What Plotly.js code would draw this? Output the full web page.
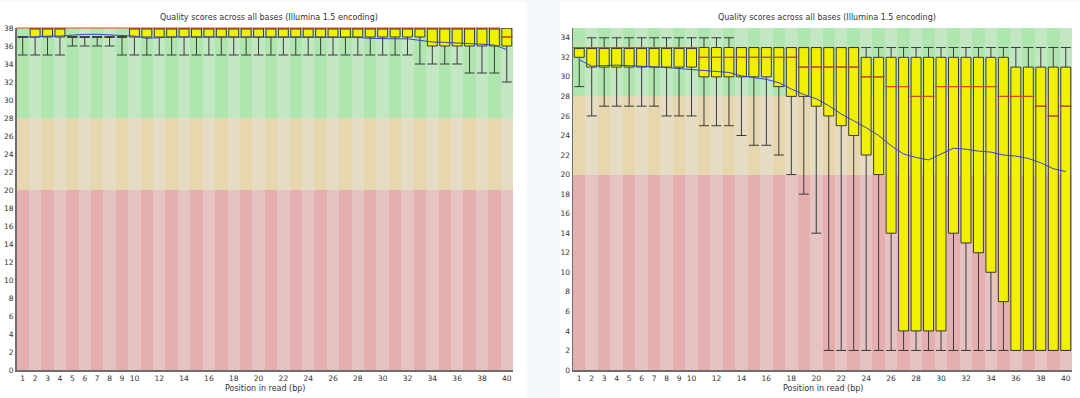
<!DOCTYPE html>
<html>
<head>
<meta charset="utf-8">
<script src="https://cdn.plot.ly/plotly-3.0.1.min.js"></script>
<style>html,body{margin:0;padding:0;background:#f4f9fd;}#chart{width:1080px;height:398px;}</style>
</head>
<body>
<div id="chart"></div>
<script>
// ---------- data ----------
const positions = [1,2,3,4,5,6,7,8,9,10,11,12,13,14,15,16,17,18,19,20,21,22,23,24,25,26,27,28,29,30,31,32,33,34,35,36,37,38,39,40];
const xTickVals = [1,2,3,4,5,6,7,8,9,10,12,14,16,18,20,22,24,26,28,30,32,34,36,38,40];
const chartTitle = 'Quality scores across all bases (Illumina 1.5 encoding)';
const xTitle = 'Position in read (bp)';

// zone thresholds (bad / ok / good)
const leftZoneEdges = [0, 20, 28, 38];
const rightZoneEdges = [0, 20, 28, 35];
const leftYTicks = [0,2,4,6,8,10,12,14,16,18,20,22,24,26,28,30,32,34,36,38];
const rightYTicks = [0,2,4,6,8,10,12,14,16,18,20,22,24,26,28,30,32,34];

// left chart
const leftQ1 =     [37,37,37,37,37,37,37,37,37,37,37,37,37,37,37,37,37,37,37,37,37,37,37,37,37,37,37,37,37,37,37,37,37,36,36,36,36,36,36,36];
const leftMedian = [38,38,38,38,38,38,38,38,38,38,38,38,38,38,38,38,38,38,38,38,38,38,38,38,38,38,38,38,38,38,38,38,38,38,38,38,38,38,38,37];
const leftQ3 =     [37,38,38,38,37,37,37,37,37,38,38,38,38,38,38,38,38,38,38,38,38,38,38,38,38,38,38,38,38,38,38,38,38,38,38,38,38,38,38,38];
const leftLow =    [35,35,35,35,36,36,36,36,35,35,35,35,35,35,35,35,35,35,35,35,35,35,35,35,35,35,35,35,35,35,35,35,34,34,34,34,33,33,33,32];
const leftHigh =   [37,38,38,38,37,37,37,37,37,38,38,38,38,38,38,38,38,38,38,38,38,38,38,38,38,38,38,38,38,38,38,38,38,38,38,38,38,38,38,38];
const leftMean =   [37.0,37.0,37.1,37.1,37.2,37.3,37.3,37.25,37.2,37.1,36.85,36.95,37.0,37.0,37.0,37.0,37.0,37.0,37.0,37.0,36.95,36.95,36.95,36.95,36.95,36.95,36.95,36.95,36.85,36.8,36.8,36.8,36.6,36.45,36.4,36.35,36.3,36.2,36.1,35.6];

// right chart
const rightQ1 =     [32,31,31,31,31,31,31,31,31,31,30,30,30,30,30,30,29,28,28,27,26,25,24,22,20,14,4,4,4,4,14,13,12,10,7,2,2,2,2,2];
const rightMedian = [33,33,33,33,33,33,33,33,33,33,32,32,32,32,32,32,32,32,31,31,31,31,31,30,30,29,29,28,28,29,29,29,29,29,28,28,28,27,26,27];
const rightQ3 =     [33,33,33,33,33,33,33,33,33,33,33,33,33,33,33,33,33,33,33,33,33,33,33,32,32,32,32,32,32,32,32,32,32,32,32,31,31,31,31,31];
const rightLow =    [29,26,27,27,27,27,27,26,26,26,25,25,25,24,23,23,22,20,18,14,2,2,2,2,2,2,2,2,2,2,2,2,2,2,2,2,2,2,2,2];
const rightHigh =   [33,34,34,34,34,34,34,34,34,34,34,34,34,33,33,33,33,33,33,33,33,33,33,33,33,33,33,33,33,33,33,33,33,33,33,33,33,33,33,33];
const rightMean =   [31.75,31.1,31.15,31.2,31.15,31.1,31.0,30.95,30.85,30.75,30.6,30.55,30.45,30.1,29.9,29.75,29.4,28.75,28.2,27.75,27.05,26.2,25.5,24.8,24.0,22.95,22.1,21.75,21.5,22.1,22.7,22.6,22.4,22.3,22.0,21.9,21.65,21.2,20.6,20.3];

// ---------- styles ----------
const FONT = 'DejaVu Sans, sans-serif';
const zoneColors = [
  ['rgb(230,175,175)','rgb(230,195,195)'], // bad
  ['rgb(230,215,175)','rgb(230,220,195)'], // ok
  ['rgb(175,230,175)','rgb(195,230,195)']  // good
];

function stripeTraces(edges, xa, ya) {
  const out = [];
  for (let z = 0; z < 3; z++) {
    out.push({
      type: 'bar', x: positions,
      base: positions.map(() => edges[z]),
      y: positions.map(() => edges[z+1] - edges[z]),
      width: positions.map(() => 1),
      marker: {color: positions.map(p => p % 2 ? zoneColors[z][0] : zoneColors[z][1]), line: {width: 0}},
      xaxis: xa, yaxis: ya, hoverinfo: 'skip', showlegend: false
    });
  }
  return out;
}

function chartTraces(q1, med, q3, lo, hi, mean, xa, ya) {
  // box median kept inside [q1, q3]; the red median marks use the read medians
  const boxMed = med.map((m, i) => Math.min(Math.max(m, q1[i]), q3[i]));
  return [
    {type: 'box', x: positions, q1: q1, median: boxMed, q3: q3, lowerfence: lo, upperfence: hi,
     xaxis: xa, yaxis: ya, fillcolor: '#f0f000', line: {color: '#3a3a3a', width: 1},
     width: 0.8, whiskerwidth: 1, boxpoints: false, hoverinfo: 'skip', showlegend: false},
    {type: 'scatter', mode: 'markers', x: positions, y: med, xaxis: xa, yaxis: ya,
     marker: {symbol: 'line-ew', size: 9, line: {color: '#e8481c', width: 1}},
     cliponaxis: false, hoverinfo: 'skip', showlegend: false},
    {type: 'scatter', mode: 'lines', x: positions, y: mean, xaxis: xa, yaxis: ya,
     line: {color: '#3344cc', width: 1}, hoverinfo: 'skip', showlegend: false}
  ];
}

const data = [].concat(
  stripeTraces(leftZoneEdges, 'x', 'y'),
  stripeTraces(rightZoneEdges, 'x2', 'y2'),
  chartTraces(leftQ1, leftMedian, leftQ3, leftLow, leftHigh, leftMean, 'x', 'y'),
  chartTraces(rightQ1, rightMedian, rightQ3, rightLow, rightHigh, rightMean, 'x2', 'y2')
);

const W = 1080, H = 398;
const yDom = [(H - 370) / H, (H - 28) / H];
const tickFont = {family: FONT, size: 7.5, color: '#333'};

function xAxis(dom, anchor) {
  return {domain: dom, range: [0.5, 40.5], tickvals: xTickVals, showgrid: false, zeroline: false,
          showline: true, linecolor: '#6e6e6e', linewidth: 1.5, ticks: '', tickfont: tickFont,
          anchor: anchor, fixedrange: true};
}
function yAxis(range, ticks, anchor) {
  return {domain: yDom, range: range, tickvals: ticks, showgrid: false, zeroline: false,
          showline: true, linecolor: '#6e6e6e', linewidth: 1.5, ticks: '', tickfont: tickFont,
          anchor: anchor, fixedrange: true};
}

const layout = {
  width: W, height: H,
  margin: {l: 0, r: 0, t: 0, b: 0},
  paper_bgcolor: '#f4f9fd', plot_bgcolor: 'rgba(0,0,0,0)',
  barmode: 'overlay', boxmode: 'overlay', bargap: 0,
  showlegend: false,
  xaxis: xAxis([16.5 / W, 513 / W], 'y'),
  yaxis: yAxis([0, 38], leftYTicks, 'x'),
  xaxis2: xAxis([573 / W, 1072 / W], 'y2'),
  yaxis2: yAxis([0, 35], rightYTicks, 'x2'),
  shapes: [
    {type: 'rect', xref: 'paper', yref: 'paper', x0: 0, x1: 527 / W, y0: 0, y1: (H - 2) / H,
     fillcolor: '#ffffff', line: {width: 0}, layer: 'below'},
    {type: 'rect', xref: 'paper', yref: 'paper', x0: 560 / W, x1: 1, y0: 0, y1: (H - 2) / H,
     fillcolor: '#ffffff', line: {width: 0}, layer: 'below'}
  ],
  annotations: [
    {text: chartTitle, xref: 'x domain', yref: 'paper', x: 0.5, y: (H - 18) / H, xshift: 4,
     yanchor: 'middle', showarrow: false, font: {family: FONT, size: 8, color: '#333'}},
    {text: chartTitle, xref: 'x2 domain', yref: 'paper', x: 0.5, y: (H - 18) / H, xshift: 4,
     yanchor: 'middle', showarrow: false, font: {family: FONT, size: 8, color: '#333'}},
    {text: xTitle, xref: 'x domain', yref: 'paper', x: 0.5, y: (H - 388) / H,
     yanchor: 'middle', showarrow: false, font: {family: FONT, size: 8, color: '#333'}},
    {text: xTitle, xref: 'x2 domain', yref: 'paper', x: 0.5, y: (H - 388) / H,
     yanchor: 'middle', showarrow: false, font: {family: FONT, size: 8, color: '#333'}}
  ]
};

Plotly.newPlot('chart', data, layout, {staticPlot: true, displayModeBar: false});
</script>
</body>
</html>
